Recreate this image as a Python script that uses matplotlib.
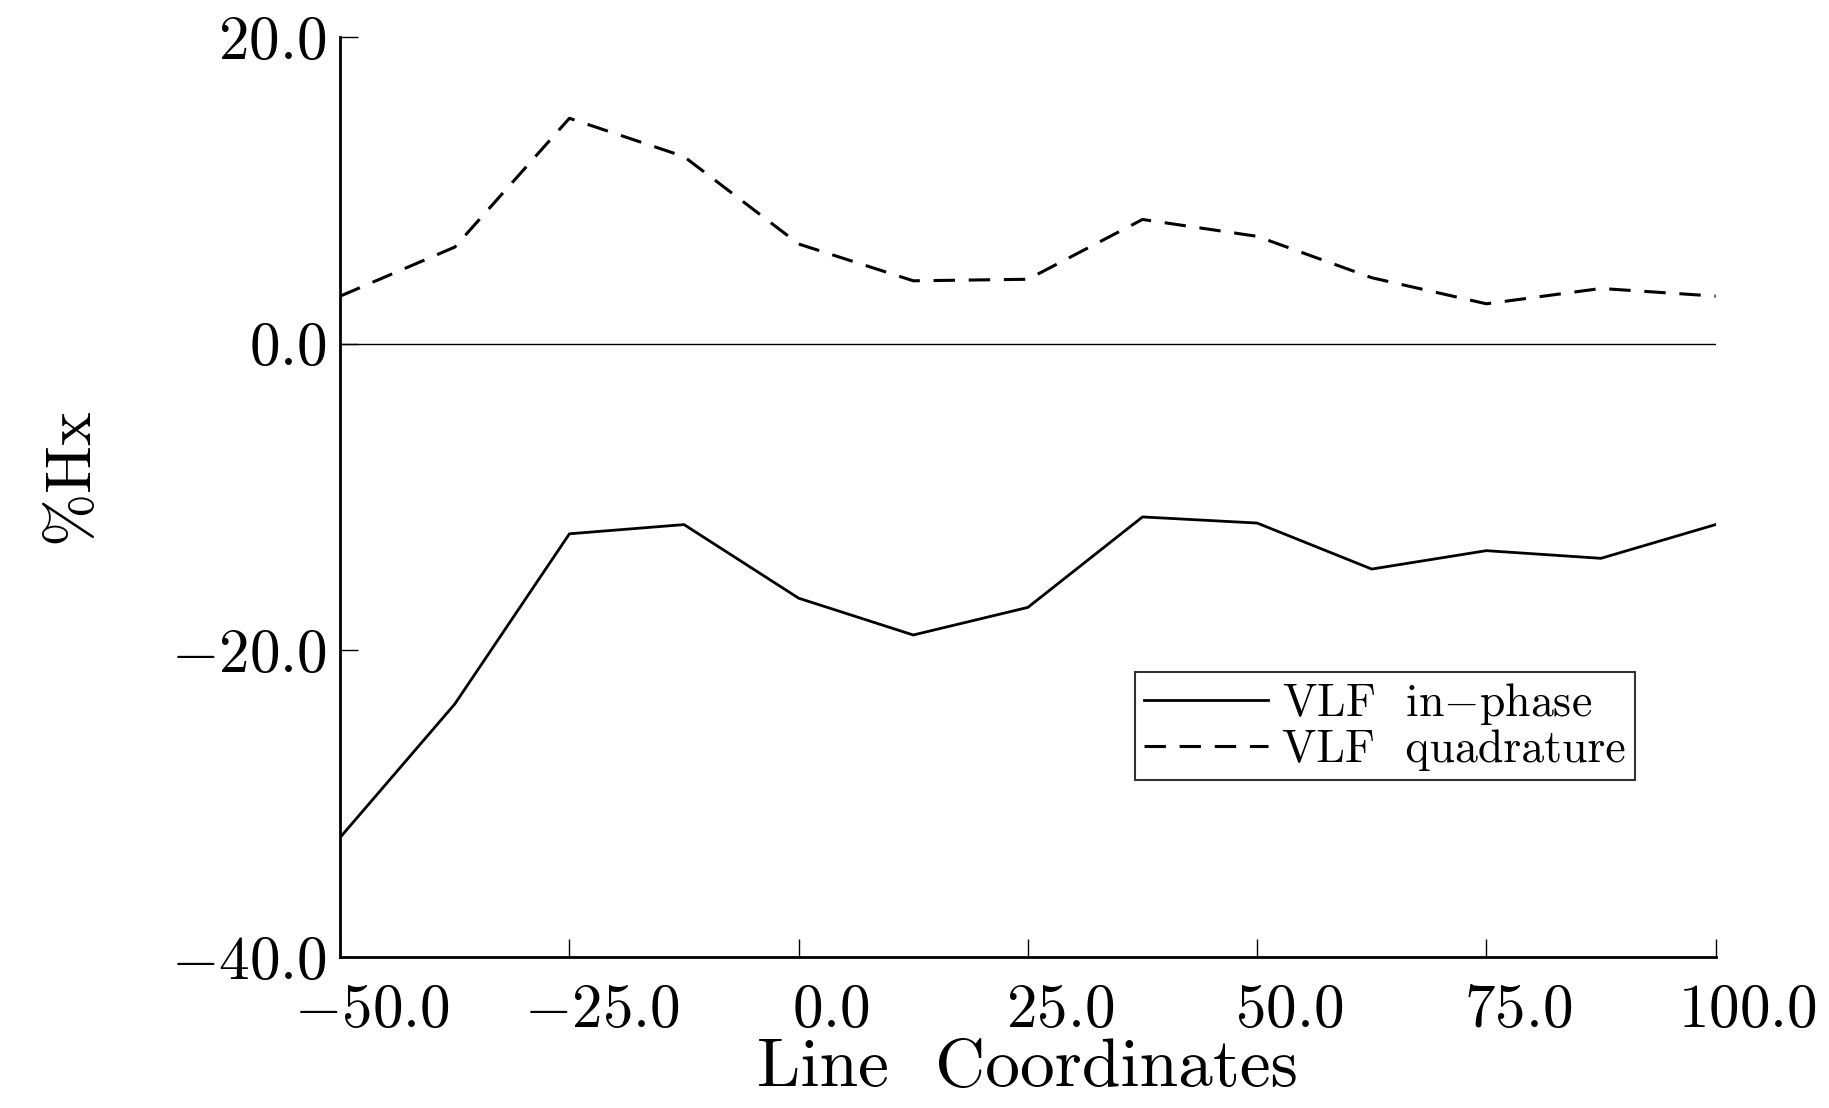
import matplotlib
matplotlib.use("Agg")
import matplotlib.pyplot as plt
import matplotlib.transforms as mtransforms

plt.rcParams['font.family'] = 'cmr10'
plt.rcParams['mathtext.fontset'] = 'cm'
plt.rcParams['axes.unicode_minus'] = False

# line coordinates along the profile
line_x = [-50.0, -37.5, -25.0, -12.5, 0.0, 12.5, 25.0, 37.5, 50.0, 62.5, 75.0, 87.5, 100.0]
# VLF readings (%Hx)
in_phase = [-32.2, -23.5, -12.4, -11.8, -16.6, -19.0, -17.2, -11.3, -11.7, -14.7, -13.5, -14.0, -11.8]
quadrature = [3.1, 6.3, 14.7, 12.2, 6.5, 4.1, 4.2, 8.1, 7.0, 4.3, 2.6, 3.6, 3.1]

xticks = [-50, -25, 0, 25, 50, 75, 100]
xticklabels = [r'$-50.0$', r'$-25.0$', r'$0.0$', r'$25.0$', r'$50.0$', r'$75.0$', r'$100.0$']
yticks = [20, 0, -20, -40]
yticklabels = [r'$20.0$', r'$0.0$', r'$-20.0$', r'$-40.0$']

fig = plt.figure(figsize=(18.29, 11.08), dpi=100)
ax = fig.add_axes([0.186, 0.1363, 0.752, 0.8303])

ax.plot(line_x, in_phase, color='black', lw=2.0, label=r'VLF  in$-$phase')
dash_line, = ax.plot(line_x, quadrature, color='black', lw=2.2, label='VLF  quadrature')
dash_line.set_dashes([7, 4.5])

# zero reference line
ax.axhline(0, color='black', lw=1.0)

ax.set_xlim(-50, 100)
ax.set_ylim(-40, 20)

for side in ['top', 'right']:
    ax.spines[side].set_visible(False)
for side in ['left', 'bottom']:
    ax.spines[side].set_linewidth(2.0)

ax.set_xticks(xticks)
ax.set_xticklabels(xticklabels, fontsize=44)
ax.set_yticks(yticks)
ax.set_yticklabels(yticklabels, fontsize=44)
ax.tick_params(axis='both', direction='in', length=13, width=1.0)
ax.tick_params(axis='x', pad=19)
ax.tick_params(axis='y', pad=10)

# the printed tick labels sit a little right of their ticks
shift = mtransforms.ScaledTranslation(0.32, 0, fig.dpi_scale_trans)
for lbl in ax.get_xticklabels():
    lbl.set_transform(lbl.get_transform() + shift)

ax.set_xlabel('Line  Coordinates', fontsize=50)
ax.xaxis.set_label_coords(0.5, -0.088)
ax.set_ylabel(r'$\%$Hx', fontsize=46)
ax.yaxis.set_label_coords(-0.172, 0.52)

leg = ax.legend(loc='upper left', bbox_to_anchor=(0.578, 0.31), fontsize=33,
                frameon=True, fancybox=False, edgecolor='black',
                handlelength=2.7, handletextpad=0.3, borderpad=0.2,
                labelspacing=0.05, borderaxespad=0)
leg.get_frame().set_linewidth(1.5)

fig.savefig('out.png', dpi=100, facecolor='white')
